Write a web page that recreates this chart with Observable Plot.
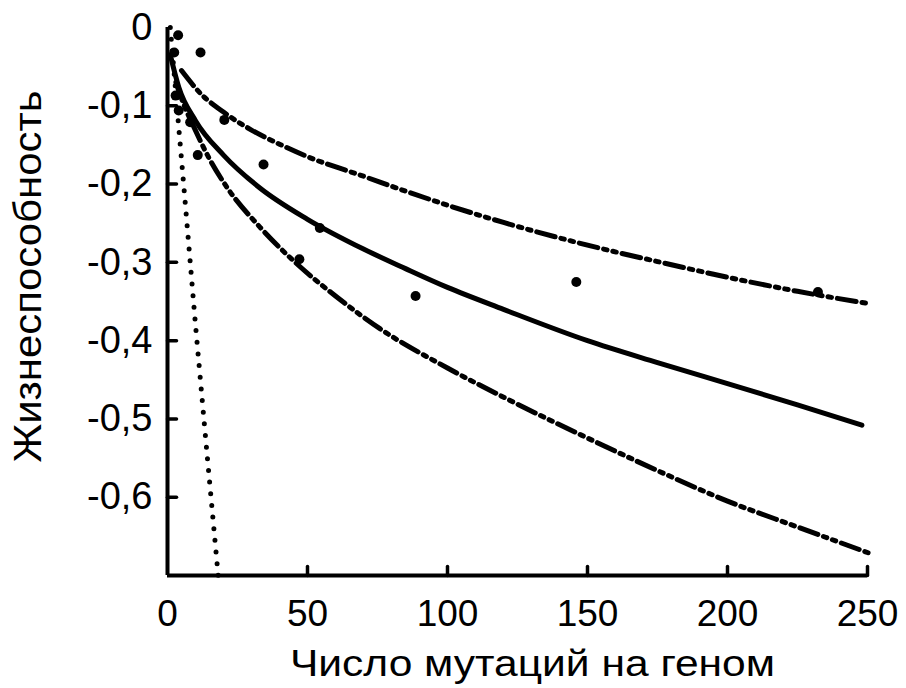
<!DOCTYPE html>
<html><head><meta charset="utf-8">
<script src="https://cdn.jsdelivr.net/npm/d3@7"></script>
<script src="https://cdn.jsdelivr.net/npm/@observablehq/plot@0.6"></script>
<style>body{margin:0;background:#fff}</style>
</head><body><div id="chart"></div>
<script>
const xLabel = "Число мутаций на геном";
const yLabel = "Жизнеспособность";
const xTicks = [0, 50, 100, 150, 200, 250];
const yTicks = [0, -0.1, -0.2, -0.3, -0.4, -0.5, -0.6];
const yTickMarks = [-0.1, -0.2, -0.3, -0.4, -0.5, -0.6];
const xTickMarks = [50, 100, 150, 200, 250];

// observed points
const obsX = [3.8, 2.4, 11.8, 2.9, 4.0, 8.1, 20.3, 10.8, 34.3, 54.4, 47.1, 88.6, 146, 232.3];
const obsY = [-0.010, -0.032, -0.032, -0.087, -0.106, -0.121, -0.118, -0.163, -0.175, -0.256, -0.296, -0.343, -0.325, -0.338];

// fitted curve (solid)
const fitX = [1, 4, 10, 20, 33, 50, 70, 85, 100, 120, 150, 175, 200, 225, 248];
const fitY = [-0.035, -0.076, -0.119, -0.163, -0.205, -0.245, -0.283, -0.308, -0.332, -0.360, -0.400, -0.428, -0.455, -0.482, -0.508];

// upper bound (dash-dot-dot)
const upX = [5, 12, 20, 30, 40, 50, 70, 85, 100, 120, 150, 175, 200, 225, 251];
const upY = [-0.055, -0.085, -0.108, -0.131, -0.149, -0.165, -0.190, -0.209, -0.227, -0.249, -0.278, -0.299, -0.319, -0.337, -0.353];

// lower bound (dash-dot-dot)
const loX = [3, 6, 9.4, 15, 21, 33, 45, 60, 76, 100, 121, 148, 175, 200, 225, 251];
const loY = [-0.070, -0.100, -0.127, -0.168, -0.203, -0.255, -0.298, -0.343, -0.385, -0.435, -0.474, -0.521, -0.566, -0.605, -0.638, -0.672];

// dotted steep line
const dotX = [1, 4, 6, 10, 14, 18.1];
const dotY = [0, -0.127, -0.21, -0.38, -0.54, -0.7];

const pts = (xs, ys) => xs.map((x, i) => ({x, y: ys[i]}));
const tickShape = {draw(ctx, l) { ctx.moveTo(0, 0); ctx.lineTo(0, -l); }};
const fmtY = d => d === 0 ? "0" : String(d).replace(".", ",");

const chart = Plot.plot({
  width: 906,
  height: 688,
  marginLeft: 167,
  marginRight: 39,
  marginTop: 27,
  marginBottom: 113,
  style: {fontFamily: "'Liberation Sans', Arial, sans-serif", background: "#fff", color: "#000"},
  x: {domain: [0, 250]},
  y: {domain: [-0.7, 0]},
  marks: [
    Plot.line(pts(dotX, dotY), {x: "x", y: "y", stroke: "#000", strokeWidth: 5, strokeDasharray: "0 11.7", strokeLinecap: "round"}),
    Plot.line(pts(upX, upY), {x: "x", y: "y", stroke: "#000", strokeWidth: 5, strokeDasharray: "19 6 3.5 6 3.5 6", curve: "monotone-x"}),
    Plot.line(pts(loX, loY), {x: "x", y: "y", stroke: "#000", strokeWidth: 5, strokeDasharray: "19 6 3.5 6 3.5 6", curve: "monotone-x"}),
    Plot.line(pts(fitX, fitY), {x: "x", y: "y", stroke: "#000", strokeWidth: 5, curve: "monotone-x"}),
    Plot.dot(pts(obsX, obsY), {x: "x", y: "y", r: 5, fill: "#000"}),
    Plot.ruleX([0], {stroke: "#000", strokeWidth: 4}),
    Plot.ruleY([-0.7], {stroke: "#000", strokeWidth: 4}),
    Plot.vector(yTickMarks, {x: 0, y: d => d, length: 9, rotate: 90, anchor: "start", shape: tickShape, stroke: "#000", strokeWidth: 3.5}),
    Plot.vector(xTickMarks, {x: d => d, y: -0.7, length: 9, rotate: 0, anchor: "start", shape: tickShape, stroke: "#000", strokeWidth: 3.5}),
    Plot.axisX({ticks: xTicks, tickSize: 0, tickPadding: 24, fontSize: 37, label: null, tickFormat: d => String(d)}),
    Plot.axisY({ticks: yTicks, tickSize: 0, tickPadding: 15, fontSize: 38, label: null, tickFormat: fmtY}),
    Plot.text([xLabel], {text: d => d, frameAnchor: "bottom", textAnchor: "middle", dx: 15, dy: 100, fontSize: 36}),
    Plot.text([yLabel], {text: d => d, frameAnchor: "left", textAnchor: "middle", rotate: -90, dx: -139, dy: -25, fontSize: 38})
  ]
});
// stretch the axis titles to the widths they have in the reference
chart.querySelectorAll("text").forEach(t => {
  if (t.textContent === xLabel) { t.setAttribute("textLength", 485); t.setAttribute("lengthAdjust", "spacingAndGlyphs"); }
  if (t.textContent === yLabel) { t.setAttribute("textLength", 372); t.setAttribute("lengthAdjust", "spacingAndGlyphs"); }
});
document.getElementById("chart").append(chart);
</script>
</body></html>
